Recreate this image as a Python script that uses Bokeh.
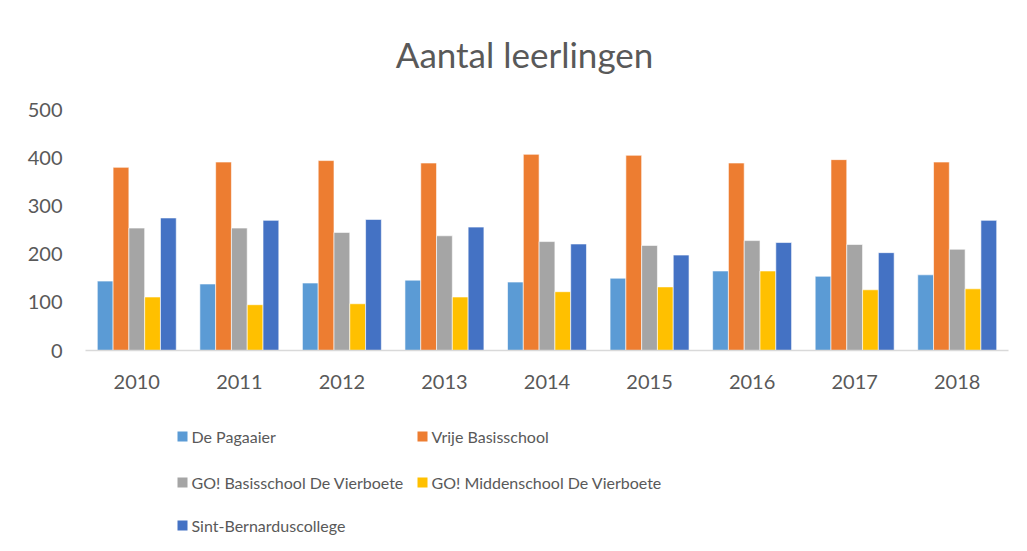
from bokeh.plotting import figure
from bokeh.layouts import column
from bokeh.models import FactorRange, Range1d, FixedTicker, ColumnDataSource
from bokeh.core.properties import value
from bokeh.transform import dodge
from bokeh.embed import file_html
from bokeh.resources import INLINE

title_text = "Aantal leerlingen"
years = ["2010", "2011", "2012", "2013", "2014", "2015", "2016", "2017", "2018"]
series_names = ["De Pagaaier", "Vrije Basisschool", "GO! Basisschool De Vierboete",
                "GO! Middenschool De Vierboete", "Sint-Bernarduscollege"]
de_pagaaier = [144, 138, 140, 146, 142, 150, 165, 154, 157]
vrije_basisschool = [380, 391, 394, 389, 407, 405, 389, 396, 391]
go_basisschool = [254, 254, 245, 238, 226, 218, 228, 220, 210]
go_middenschool = [111, 95, 97, 111, 122, 132, 165, 126, 128]
sint_bernardus = [275, 270, 272, 256, 221, 198, 224, 203, 270]
y_ticks = [0, 100, 200, 300, 400, 500]

colors = ["#5B9BD5", "#ED7D31", "#A5A5A5", "#FFC000", "#4472C4"]
FONT = "Lato"
TXT = "#595959"
W = 1011
FL, FR = 85, 3


def strip(h):
    f = figure(width=W, height=h, x_range=Range1d(FL, W - FR), y_range=Range1d(h, 0),
               output_backend="svg", toolbar_location=None,
               min_border_left=FL, min_border_right=FR, min_border_top=0, min_border_bottom=0)
    f.axis.visible = False
    f.grid.visible = False
    f.outline_line_color = None
    return f


# Title strip
TH = 85
top = strip(TH)
top.text(x=[524], y=[53], text=[title_text], text_align="center", text_baseline="middle",
         text_font=value(FONT), text_font_size="35px", text_color=TXT)

# Main chart
src = ColumnDataSource(dict(year=years, s0=de_pagaaier, s1=vrije_basisschool,
                            s2=go_basisschool, s3=go_middenschool, s4=sint_bernardus))

p = figure(x_range=FactorRange(*years, range_padding=0), y_range=Range1d(0, 500),
           width=W, height=400 - TH, output_backend="svg", toolbar_location=None,
           min_border_left=FL, min_border_right=FR, min_border_top=109 - TH, min_border_bottom=50)

bw = 0.154
offsets = [-2 * bw, -bw, 0, bw, 2 * bw]
for i in range(5):
    p.vbar(x=dodge("year", offsets[i], range=p.x_range), top="s%d" % i, width=bw,
           source=src, fill_color=colors[i], line_color="white", line_width=1, line_alpha=0.6)

p.xgrid.visible = False
p.ygrid.visible = False
p.outline_line_color = None

p.yaxis.ticker = FixedTicker(ticks=y_ticks)
p.yaxis.axis_line_color = None
p.yaxis.major_tick_line_color = None
p.yaxis.minor_tick_line_color = None
p.yaxis.major_tick_out = 0
p.yaxis.major_tick_in = 0
p.yaxis.major_label_standoff = 23
p.yaxis.major_label_text_font = FONT
p.yaxis.major_label_text_font_size = "20px"
p.yaxis.major_label_text_color = TXT

p.xaxis.axis_line_color = "#D9D9D9"
p.xaxis.axis_line_width = 1.5
p.xaxis.major_tick_line_color = None
p.xaxis.minor_tick_line_color = None
p.xaxis.major_tick_out = 0
p.xaxis.major_tick_in = 0
p.xaxis.major_label_standoff = 24
p.xaxis.major_label_text_font = FONT
p.xaxis.major_label_text_font_size = "20px"
p.xaxis.major_label_text_color = TXT

# Legend strip below (two columns, row-major order); x in page pixels
LH = 135
leg = strip(LH)
col_x = [182, 422]
row_y = [36, 82, 125]
lx, ly = [], []
for k in range(len(series_names)):
    lx.append(col_x[k % 2])
    ly.append(row_y[k // 2])
lsrc = ColumnDataSource(dict(x=lx, y=ly, tx=[v + 9 for v in lx], name=series_names, color=colors))
leg.rect(x="x", y="y", width=10, height=10, width_units="screen", height_units="screen",
         source=lsrc, fill_color="color", line_color=None)
leg.text(x="tx", y="y", text="name", source=lsrc, text_baseline="middle", text_align="left",
         text_font=value(FONT), text_font_size="16px", text_color=TXT)

open("out.html", "w").write(file_html(column(top, p, leg, spacing=0), INLINE))
